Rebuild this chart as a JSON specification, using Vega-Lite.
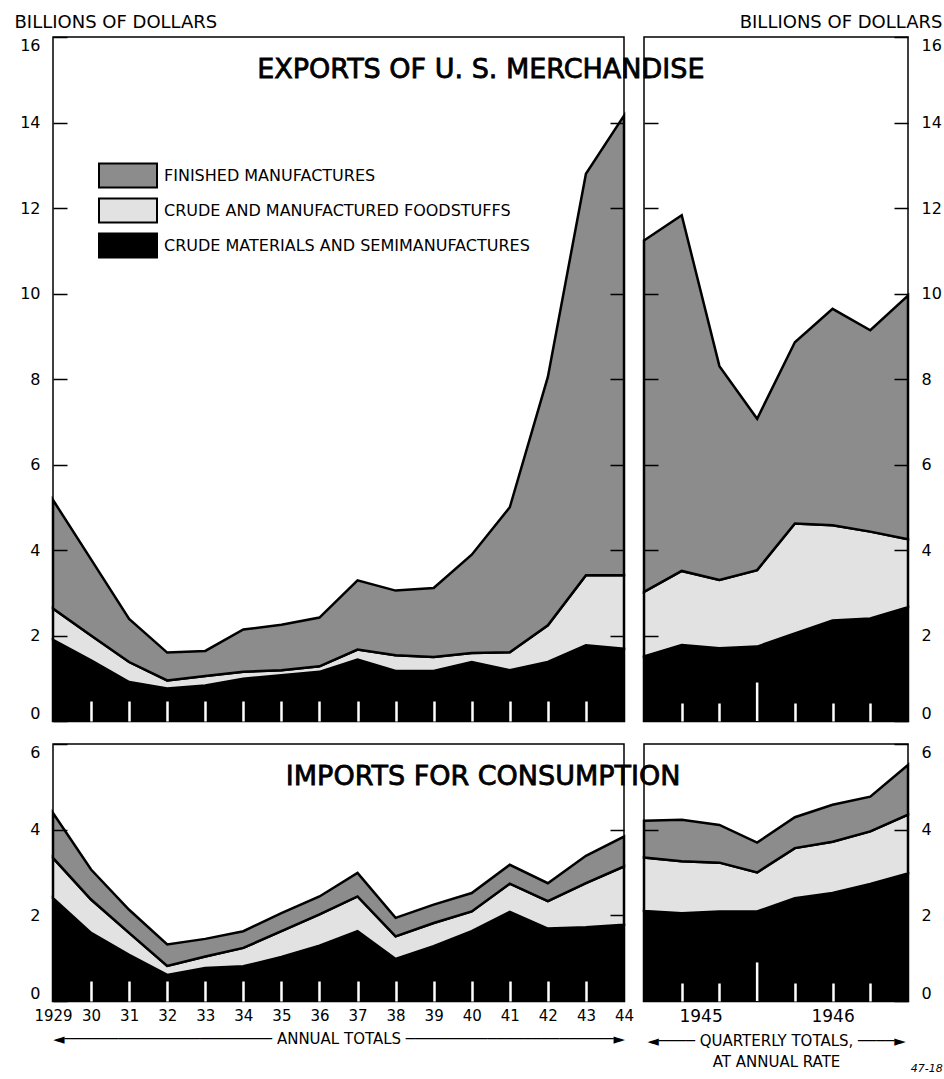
{
  "$schema": "https://vega.github.io/schema/vega-lite/v6.json",
  "padding": {"left": 13, "top": 12, "right": 0, "bottom": 0},
  "background": "white",
  "datasets": {
    "exports_annual": [
      {"year": 1929, "crude": 1.90, "foodstuffs": 0.73, "manufactures": 2.54},
      {"year": 1930, "crude": 1.42, "foodstuffs": 0.58, "manufactures": 1.78},
      {"year": 1931, "crude": 0.91, "foodstuffs": 0.47, "manufactures": 1.01},
      {"year": 1932, "crude": 0.76, "foodstuffs": 0.19, "manufactures": 0.65},
      {"year": 1933, "crude": 0.83, "foodstuffs": 0.22, "manufactures": 0.59},
      {"year": 1934, "crude": 0.99, "foodstuffs": 0.16, "manufactures": 0.99},
      {"year": 1935, "crude": 1.07, "foodstuffs": 0.12, "manufactures": 1.06},
      {"year": 1936, "crude": 1.15, "foodstuffs": 0.13, "manufactures": 1.14},
      {"year": 1937, "crude": 1.44, "foodstuffs": 0.23, "manufactures": 1.62},
      {"year": 1938, "crude": 1.17, "foodstuffs": 0.37, "manufactures": 1.51},
      {"year": 1939, "crude": 1.17, "foodstuffs": 0.33, "manufactures": 1.61},
      {"year": 1940, "crude": 1.38, "foodstuffs": 0.21, "manufactures": 2.30},
      {"year": 1941, "crude": 1.19, "foodstuffs": 0.42, "manufactures": 3.39},
      {"year": 1942, "crude": 1.38, "foodstuffs": 0.86, "manufactures": 5.81},
      {"year": 1943, "crude": 1.77, "foodstuffs": 1.64, "manufactures": 9.39},
      {"year": 1944, "crude": 1.69, "foodstuffs": 1.72, "manufactures": 10.75}
    ],
    "exports_quarterly": [
      {"t": 1945.00, "crude": 1.51, "foodstuffs": 1.51, "manufactures": 8.22},
      {"t": 1945.25, "crude": 1.78, "foodstuffs": 1.73, "manufactures": 8.32},
      {"t": 1945.50, "crude": 1.70, "foodstuffs": 1.60, "manufactures": 5.00},
      {"t": 1945.75, "crude": 1.74, "foodstuffs": 1.79, "manufactures": 3.54},
      {"t": 1946.00, "crude": 2.05, "foodstuffs": 2.57, "manufactures": 4.24},
      {"t": 1946.25, "crude": 2.35, "foodstuffs": 2.23, "manufactures": 5.06},
      {"t": 1946.50, "crude": 2.40, "foodstuffs": 2.03, "manufactures": 4.71},
      {"t": 1946.75, "crude": 2.66, "foodstuffs": 1.59, "manufactures": 5.70}
    ],
    "imports_annual": [
      {"year": 1929, "crude": 2.40, "foodstuffs": 0.94, "manufactures": 1.05},
      {"year": 1930, "crude": 1.59, "foodstuffs": 0.78, "manufactures": 0.70},
      {"year": 1931, "crude": 1.08, "foodstuffs": 0.51, "manufactures": 0.54},
      {"year": 1932, "crude": 0.61, "foodstuffs": 0.21, "manufactures": 0.50},
      {"year": 1933, "crude": 0.77, "foodstuffs": 0.27, "manufactures": 0.41},
      {"year": 1934, "crude": 0.81, "foodstuffs": 0.43, "manufactures": 0.39},
      {"year": 1935, "crude": 1.03, "foodstuffs": 0.60, "manufactures": 0.42},
      {"year": 1936, "crude": 1.29, "foodstuffs": 0.73, "manufactures": 0.42},
      {"year": 1937, "crude": 1.63, "foodstuffs": 0.81, "manufactures": 0.55},
      {"year": 1938, "crude": 0.98, "foodstuffs": 0.53, "manufactures": 0.43},
      {"year": 1939, "crude": 1.28, "foodstuffs": 0.54, "manufactures": 0.43},
      {"year": 1940, "crude": 1.63, "foodstuffs": 0.46, "manufactures": 0.43},
      {"year": 1941, "crude": 2.08, "foodstuffs": 0.66, "manufactures": 0.44},
      {"year": 1942, "crude": 1.69, "foodstuffs": 0.64, "manufactures": 0.42},
      {"year": 1943, "crude": 1.72, "foodstuffs": 1.03, "manufactures": 0.64},
      {"year": 1944, "crude": 1.78, "foodstuffs": 1.36, "manufactures": 0.70}
    ],
    "imports_quarterly": [
      {"t": 1945.00, "crude": 2.10, "foodstuffs": 1.25, "manufactures": 0.86},
      {"t": 1945.25, "crude": 2.05, "foodstuffs": 1.21, "manufactures": 0.97},
      {"t": 1945.50, "crude": 2.09, "foodstuffs": 1.14, "manufactures": 0.88},
      {"t": 1945.75, "crude": 2.09, "foodstuffs": 0.91, "manufactures": 0.70},
      {"t": 1946.00, "crude": 2.40, "foodstuffs": 1.17, "manufactures": 0.72},
      {"t": 1946.25, "crude": 2.52, "foodstuffs": 1.20, "manufactures": 0.86},
      {"t": 1946.50, "crude": 2.73, "foodstuffs": 1.23, "manufactures": 0.81},
      {"t": 1946.75, "crude": 2.98, "foodstuffs": 1.37, "manufactures": 1.16}
    ]
  },
  "columns": 2,
  "spacing": {"row": 23, "column": 20},
  "bounds": "flush",
  "resolve": {"legend": {"color": "independent"}},
  "title": {"text": "47-18", "orient": "bottom", "anchor": "end", "fontSize": 11, "fontStyle": "italic", "fontWeight": "normal", "font": "DejaVu Sans", "offset": -7},
  "concat": [
    {
      "width": 571, "height": 684,
      "layer": [
        {
          "data": {"name": "exports_annual"},
          "transform": [{"fold": ["crude", "foodstuffs", "manufactures"], "as": ["category", "value"]}],
          "mark": {"type": "area", "stroke": "black", "strokeWidth": 2.5, "opacity": 1, "strokeJoin": "miter"},
          "encoding": {
            "x": {"field": "year", "type": "quantitative", "scale": {"domain": [1929, 1944], "nice": false, "zero": false},
              "axis": {"values": [1930, 1931, 1932, 1933, 1934, 1935, 1936, 1937, 1938, 1939, 1940, 1941, 1942, 1943], "labels": false, "tickColor": "white", "tickSize": -20, "tickWidth": 2.5, "title": null, "zindex": 1}},
            "y": {"field": "value", "type": "quantitative", "stack": "zero", "scale": {"domain": [0, 16], "nice": false},
              "axis": {"orient": "left", "values": [0, 2, 4, 6, 8, 10, 12, 14, 16], "tickSize": -14, "tickWidth": 1.5, "labelPadding": 27,
                "labelBaseline": {"condition": [{"test": "datum.value == 16", "value": "top"}, {"test": "datum.value == 0", "value": "bottom"}], "value": "middle"},
                "title": "BILLIONS OF DOLLARS", "titleAngle": 0, "titleAlign": "left", "titleBaseline": "alphabetic", "titleX": -39, "titleY": -10, "titleFontSize": 18, "zindex": 1}},
            "color": {"field": "category", "type": "nominal",
              "scale": {"domain": ["manufactures", "foodstuffs", "crude"], "range": ["#8c8c8c", "#e2e2e2", "#000000"]},
              "legend": {"orient": "none", "legendX": 59.5, "legendY": 123, "title": null, "symbolType": "M-2,-0.83L2,-0.83L2,0.83L-2,0.83Z", "symbolSize": 841, "symbolStrokeColor": "black", "symbolStrokeWidth": 2, "symbolOpacity": 1, "labelFontSize": 16, "labelFont": "DejaVu Sans", "labelColor": "black", "labelOffset": 20.5, "labelLimit": 0, "rowPadding": 2, "padding": 0,
                "labelExpr": "datum.label == 'manufactures' ? 'FINISHED MANUFACTURES' : datum.label == 'foodstuffs' ? 'CRUDE AND MANUFACTURED FOODSTUFFS' : 'CRUDE MATERIALS AND SEMIMANUFACTURES'"}},
            "order": {"field": "category", "sort": "ascending"}
          }
        },
        {
          "data": {"values": [{}]},
          "mark": {"type": "text", "fontSize": 27, "font": "DejaVu Sans", "align": "center", "baseline": "alphabetic", "fill": "black", "stroke": "black", "strokeWidth": 0.8},
          "encoding": {
            "x": {"datum": 1940.24, "type": "quantitative", "axis": null},
            "y": {"datum": 15.04, "type": "quantitative", "axis": {"orient": "right", "values": [2, 4, 6, 8, 10, 12, 14], "tickSize": -14, "tickWidth": 1.5, "labels": false, "title": null, "zindex": 1}},
            "text": {"value": "EXPORTS OF U. S. MERCHANDISE"}
          }
        }
      ],
      "resolve": {"axis": {"y": "independent", "x": "independent"}}
    },
    {
      "width": 264, "height": 684,
      "layer": [
        {
          "data": {"name": "exports_quarterly"},
          "transform": [{"fold": ["crude", "foodstuffs", "manufactures"], "as": ["category", "value"]}],
          "mark": {"type": "area", "stroke": "black", "strokeWidth": 2.5, "opacity": 1, "strokeJoin": "miter"},
          "encoding": {
            "x": {"field": "t", "type": "quantitative", "scale": {"domain": [1945, 1946.75], "nice": false, "zero": false},
              "axis": {"values": [1945.25, 1945.5, 1946, 1946.25, 1946.5], "labels": false, "tickColor": "white", "tickSize": -18, "tickWidth": 2.5, "title": null, "zindex": 1}},
            "y": {"field": "value", "type": "quantitative", "stack": "zero", "scale": {"domain": [0, 16], "nice": false},
              "axis": {"orient": "right", "values": [0, 2, 4, 6, 8, 10, 12, 14, 16], "tickSize": -14, "tickWidth": 1.5, "labelPadding": 27,
                "labelBaseline": {"condition": [{"test": "datum.value == 16", "value": "top"}, {"test": "datum.value == 0", "value": "bottom"}], "value": "middle"},
                "title": "BILLIONS OF DOLLARS", "titleAngle": 0, "titleAlign": "right", "titleBaseline": "alphabetic", "titleX": 34, "titleY": -10, "titleFontSize": 18, "zindex": 1}},
            "color": {"field": "category", "type": "nominal", "scale": {"domain": ["manufactures", "foodstuffs", "crude"], "range": ["#8c8c8c", "#e2e2e2", "#000000"]}, "legend": null},
            "order": {"field": "category", "sort": "ascending"}
          }
        },
        {
          "data": {"values": [{}]},
          "mark": {"type": "rule", "color": "white", "strokeWidth": 2.5},
          "encoding": {
            "x": {"datum": 1945.75, "type": "quantitative", "axis": null},
            "y": {"datum": 0, "type": "quantitative", "axis": {"orient": "left", "values": [2, 4, 6, 8, 10, 12, 14], "tickSize": -14, "tickWidth": 1.5, "labels": false, "title": null, "zindex": 1}},
            "y2": {"datum": 0.9}
          }
        }
      ],
      "resolve": {"axis": {"y": "independent", "x": "independent"}}
    },
    {
      "width": 571, "height": 257,
      "layer": [
        {
          "data": {"name": "imports_annual"},
          "transform": [{"fold": ["crude", "foodstuffs", "manufactures"], "as": ["category", "value"]}],
          "mark": {"type": "area", "stroke": "black", "strokeWidth": 2.5, "opacity": 1, "strokeJoin": "miter"},
          "encoding": {
            "x": {"field": "year", "type": "quantitative", "scale": {"domain": [1929, 1944], "nice": false, "zero": false},
              "axis": {"values": [1929, 1930, 1931, 1932, 1933, 1934, 1935, 1936, 1937, 1938, 1939, 1940, 1941, 1942, 1943, 1944], "format": "d", "labelExpr": "datum.value == 1929 ? '1929' : substring(toString(datum.value), 2)", "labelOverlap": false, "labelFlush": false, "labelFontSize": 15, "labelPadding": 27,
                "tickColor": "white", "tickOpacity": {"condition": {"test": "datum.value == 1929 || datum.value == 1944", "value": 0}, "value": 1}, "tickSize": -20, "tickWidth": 2.5, "zindex": 1,
                "title": "◄───────────────────────  ANNUAL TOTALS  ───────────────────────►", "titleFontSize": 15, "titlePadding": 8}},
            "y": {"field": "value", "type": "quantitative", "stack": "zero", "scale": {"domain": [0, 6], "nice": false},
              "axis": {"orient": "left", "values": [0, 2, 4, 6], "tickSize": -14, "tickWidth": 1.5, "labelPadding": 27,
                "labelBaseline": {"condition": [{"test": "datum.value == 6", "value": "top"}, {"test": "datum.value == 0", "value": "bottom"}], "value": "middle"},
                "title": null, "zindex": 1}},
            "color": {"field": "category", "type": "nominal", "scale": {"domain": ["manufactures", "foodstuffs", "crude"], "range": ["#8c8c8c", "#e2e2e2", "#000000"]}, "legend": null},
            "order": {"field": "category", "sort": "ascending"}
          }
        },
        {
          "data": {"values": [{}]},
          "mark": {"type": "text", "fontSize": 27, "font": "DejaVu Sans", "align": "center", "baseline": "alphabetic", "fill": "black", "stroke": "black", "strokeWidth": 0.8},
          "encoding": {
            "x": {"datum": 1940.3, "type": "quantitative", "axis": null},
            "y": {"datum": 5.05, "type": "quantitative", "axis": {"orient": "right", "values": [2, 4], "tickSize": -14, "tickWidth": 1.5, "labels": false, "title": null, "zindex": 1}},
            "text": {"value": "IMPORTS FOR CONSUMPTION"}
          }
        }
      ],
      "resolve": {"axis": {"y": "independent", "x": "independent"}}
    },
    {
      "width": 264, "height": 257,
      "layer": [
        {
          "data": {"name": "imports_quarterly"},
          "transform": [{"fold": ["crude", "foodstuffs", "manufactures"], "as": ["category", "value"]}],
          "mark": {"type": "area", "stroke": "black", "strokeWidth": 2.5, "opacity": 1, "strokeJoin": "miter"},
          "encoding": {
            "x": {"field": "t", "type": "quantitative", "scale": {"domain": [1945, 1946.75], "nice": false, "zero": false},
              "axis": {"values": [1945.25, 1945.375, 1945.5, 1946, 1946.25, 1946.5], "labelExpr": "datum.value == 1945.375 ? '1945' : datum.value == 1946.25 ? '1946' : ''", "labelOverlap": false, "labelFlush": false, "labelFontSize": 17, "labelPadding": 25,
                "tickColor": "white", "tickOpacity": {"condition": {"test": "datum.value == 1945.375", "value": 0}, "value": 1}, "tickSize": -18, "tickWidth": 2.5, "zindex": 1,
                "title": ["◄────  QUARTERLY TOTALS,  ────►", "AT ANNUAL RATE"], "titleFontSize": 15, "titlePadding": 9, "titleLineHeight": 21}},
            "y": {"field": "value", "type": "quantitative", "stack": "zero", "scale": {"domain": [0, 6], "nice": false},
              "axis": {"orient": "right", "values": [0, 2, 4, 6], "tickSize": -14, "tickWidth": 1.5, "labelPadding": 27,
                "labelBaseline": {"condition": [{"test": "datum.value == 6", "value": "top"}, {"test": "datum.value == 0", "value": "bottom"}], "value": "middle"},
                "title": null, "zindex": 1}},
            "color": {"field": "category", "type": "nominal", "scale": {"domain": ["manufactures", "foodstuffs", "crude"], "range": ["#8c8c8c", "#e2e2e2", "#000000"]}, "legend": null},
            "order": {"field": "category", "sort": "ascending"}
          }
        },
        {
          "data": {"values": [{}]},
          "mark": {"type": "rule", "color": "white", "strokeWidth": 2.5},
          "encoding": {
            "x": {"datum": 1945.75, "type": "quantitative", "axis": null},
            "y": {"datum": 0, "type": "quantitative", "axis": {"orient": "left", "values": [2, 4], "tickSize": -14, "tickWidth": 1.5, "labels": false, "title": null, "zindex": 1}},
            "y2": {"datum": 0.9}
          }
        }
      ],
      "resolve": {"axis": {"y": "independent", "x": "independent"}}
    }
  ],
  "config": {
    "view": {"stroke": "black", "strokeWidth": 1.5},
    "font": "DejaVu Sans",
    "axis": {"domain": false, "grid": false, "labelFont": "DejaVu Sans", "labelColor": "black", "labelFontSize": 16, "titleFont": "DejaVu Sans", "titleColor": "black", "titleFontWeight": "normal", "tickColor": "black"}
  }
}
